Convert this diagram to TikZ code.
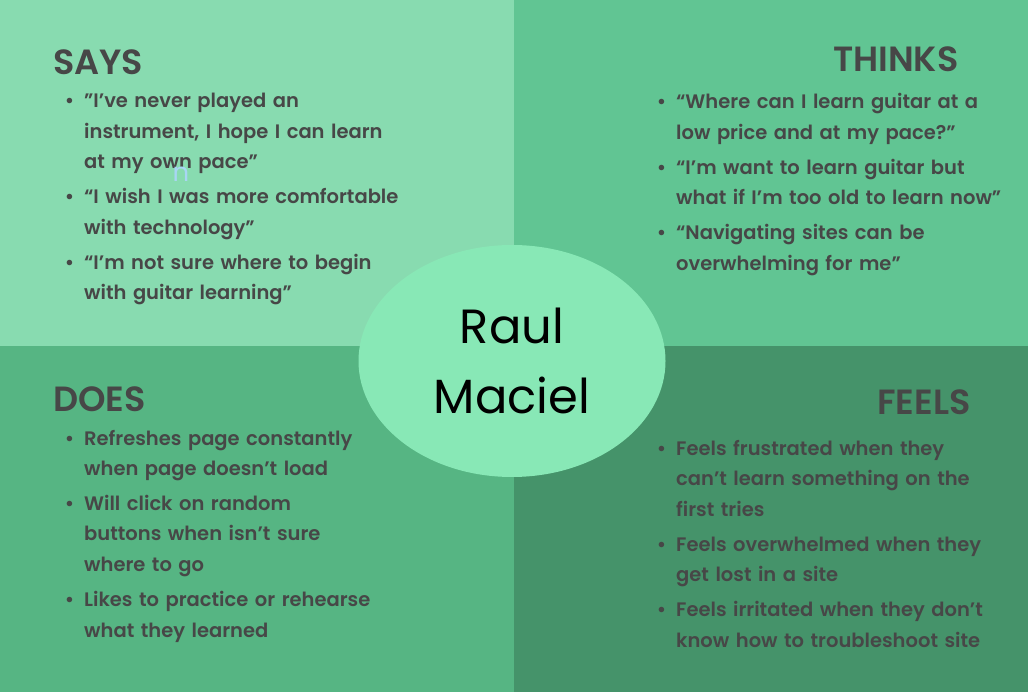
\documentclass[tikz,border=0pt]{standalone}
\usepackage{fontspec}
\IfFontExistsTF{Poppins SemiBold}
  {\newfontfamily\popsemi{Poppins SemiBold}}
  {\newfontfamily\popsemi{Poppins}[FakeBold=1.2]}
\newfontfamily\popreg{Poppins}
\usetikzlibrary{
    positioning,
    shapes.geometric
}
\definecolor{SaysGreen}{HTML}{88DBB0}
\definecolor{ThinksGreen}{HTML}{61C593}
\definecolor{DoesGreen}{HTML}{56B583}
\definecolor{FeelsGreen}{HTML}{45936A}
\definecolor{NameGreen}{HTML}{88E8B6}
\definecolor{InkGray}{HTML}{474747}
\definecolor{StrayBlue}{HTML}{A8D6F4}
\tikzset{
  heading/.style = {anchor=base west, inner sep=0pt, text=InkGray,
                    font=\popsemi\fontsize{35}{38}\selectfont},
  notes/.style   = {anchor=base west, inner sep=0pt, text width=420pt,
                    align=left, text=InkGray,
                    font=\popsemi\fontsize{19.5}{30.5}\selectfont},
  persona/.style = {ellipse, fill=NameGreen, minimum width=307pt,
                    minimum height=232pt, inner sep=0pt, align=center,
                    font=\popreg\fontsize{48}{70}\selectfont}
}
\newcommand{\bul}{\makebox[0pt][r]{\textbullet\hspace{10pt}}}

\begin{document}
\begin{tikzpicture}[x=1pt, y=-1pt]
% quadrants
\fill[SaysGreen]   (0,0)     rectangle (514,346);
\fill[ThinksGreen] (514,0)   rectangle (1028,346);
\fill[DoesGreen]   (0,346)   rectangle (514,692);
\fill[FeelsGreen]  (514,346) rectangle (1028,692);
\useasboundingbox (0,0) rectangle (1028,692);

\node[heading] (says)   at (53,75)   {SAYS};
\node[heading] (thinks) at (833,72)  {THINKS};
\node[heading] (does)   at (53,411)  {DOES};
\node[heading] (feels)  at (877,414) {FEELS};

\node[notes] (saysnotes) at (84,108) {%
  \bul ”I’ve never played an\\
  instrument, I hope I can learn\\
  at my own pace”\\[4.5pt]
  \bul “I wish I was more comfortable\\
  with technology”\\[4.5pt]
  \bul “I’m not sure where to begin\\
  with guitar learning”};
\node[notes] (thinksnotes) at (676,109) {%
  \bul “Where can I learn guitar at a\\
  low price and at my pace?”\\[4.5pt]
  \bul “I’m want to learn guitar but\\
  what if I’m too old to learn now”\\[4.5pt]
  \bul “Navigating sites can be\\
  overwhelming for me”};
\node[notes] (doesnotes) at (84,445) {%
  \bul Refreshes page constantly\\
  when page doesn’t load\\[4.5pt]
  \bul Will click on random\\
  buttons when isn’t sure\\
  where to go\\[4.5pt]
  \bul Likes to practice or rehearse\\
  what they learned};
\node[notes] (feelsnotes) at (676,455) {%
  \bul Feels frustrated when they\\
  can’t learn something on the\\
  first tries\\[4.5pt]
  \bul Feels overwhelmed when they\\
  get lost in a site\\[4.5pt]
  \bul Feels irritated when they don’t\\
  know how to troubleshoot site};

\node[anchor=base, inner sep=0pt, text=StrayBlue,
      font=\popreg\fontsize{26}{26}\selectfont] (stray) at (181,182) {n};

\node[persona] (raul) at (512,361) {Raul\\Maciel};
\end{tikzpicture}
\end{document}
